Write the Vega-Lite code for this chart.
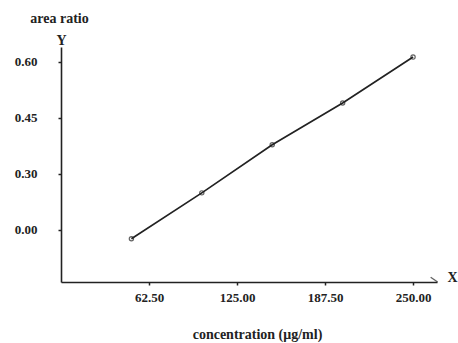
{
  "$schema": "https://vega.github.io/schema/vega-lite/v6.json",
  "width": 376,
  "height": 235,
  "autosize": {"type": "none"},
  "padding": {"left": 61, "top": 47, "right": 21, "bottom": 61},
  "background": "white",
  "config": {
    "view": {"stroke": null},
    "font": "Liberation Serif",
    "axis": {
      "grid": false,
      "domainColor": "#222",
      "domainWidth": 1.6,
      "tickColor": "#222",
      "tickWidth": 1.5,
      "tickSize": 3,
      "labelFont": "Liberation Serif",
      "labelFontWeight": "bold",
      "labelFontSize": 13,
      "labelColor": "#222",
      "titleFont": "Liberation Serif",
      "titleFontWeight": "bold",
      "titleFontSize": 14,
      "titleColor": "#222"
    }
  },
  "data": {
    "values": [
      {"conc": 50, "ratio": 0.126},
      {"conc": 100, "ratio": 0.249},
      {"conc": 150, "ratio": 0.378},
      {"conc": 200, "ratio": 0.49},
      {"conc": 250, "ratio": 0.613}
    ]
  },
  "layer": [
    {
      "mark": {"type": "line", "color": "#222", "strokeWidth": 1.7},
      "encoding": {
        "x": {
          "field": "conc", "type": "quantitative",
          "scale": {"domain": [0, 267], "nice": false, "zero": false},
          "axis": {
            "values": [62.5, 125, 187.5, 250],
            "format": ".2f",
            "labelPadding": 6,
            "title": "X",
            "titleAngle": 0,
            "titleX": 386,
            "titleY": -5,
            "titleAlign": "left",
            "titleBaseline": "middle"
          }
        },
        "y": {
          "field": "ratio", "type": "quantitative",
          "scale": {"domain": [0.01, 0.64], "nice": false, "zero": false},
          "axis": {
            "values": [0.15, 0.3, 0.45, 0.6],
            "labelExpr": "datum.value < 0.2 ? '0.00' : format(datum.value, '.2f')",
            "labelPadding": 21,
            "title": "Y",
            "titleAngle": 0,
            "titleX": 0,
            "titleY": -3,
            "titleAlign": "center",
            "titleBaseline": "alphabetic"
          }
        }
      }
    },
    {
      "mark": {"type": "point", "shape": "circle", "filled": false, "color": "#222", "size": 18, "strokeWidth": 1.2},
      "encoding": {
        "x": {
          "field": "conc", "type": "quantitative",
          "axis": {
            "orient": "bottom",
            "domain": false, "ticks": false, "labels": false,
            "title": "concentration (μg/ml)",
            "titleX": 196,
            "titleY": 56,
            "titleBaseline": "alphabetic"
          }
        },
        "y": {
          "field": "ratio", "type": "quantitative",
          "axis": {
            "orient": "left",
            "domain": false, "ticks": false, "labels": false,
            "title": "area ratio",
            "titleAngle": 0,
            "titleX": -2,
            "titleY": -25,
            "titleAlign": "center",
            "titleBaseline": "alphabetic"
          }
        }
      }
    },
    {
      "data": {"values": [{"conc": 267, "ratio": 0.01}]},
      "mark": {"type": "point", "shape": "M -1 -0.75 L 0.1 0", "filled": false, "color": "#222", "size": 160, "strokeWidth": 1.4},
      "encoding": {
        "x": {"field": "conc", "type": "quantitative", "axis": null},
        "y": {"field": "ratio", "type": "quantitative", "axis": null}
      }
    }
  ],
  "resolve": {"axis": {"x": "independent", "y": "independent"}}
}
